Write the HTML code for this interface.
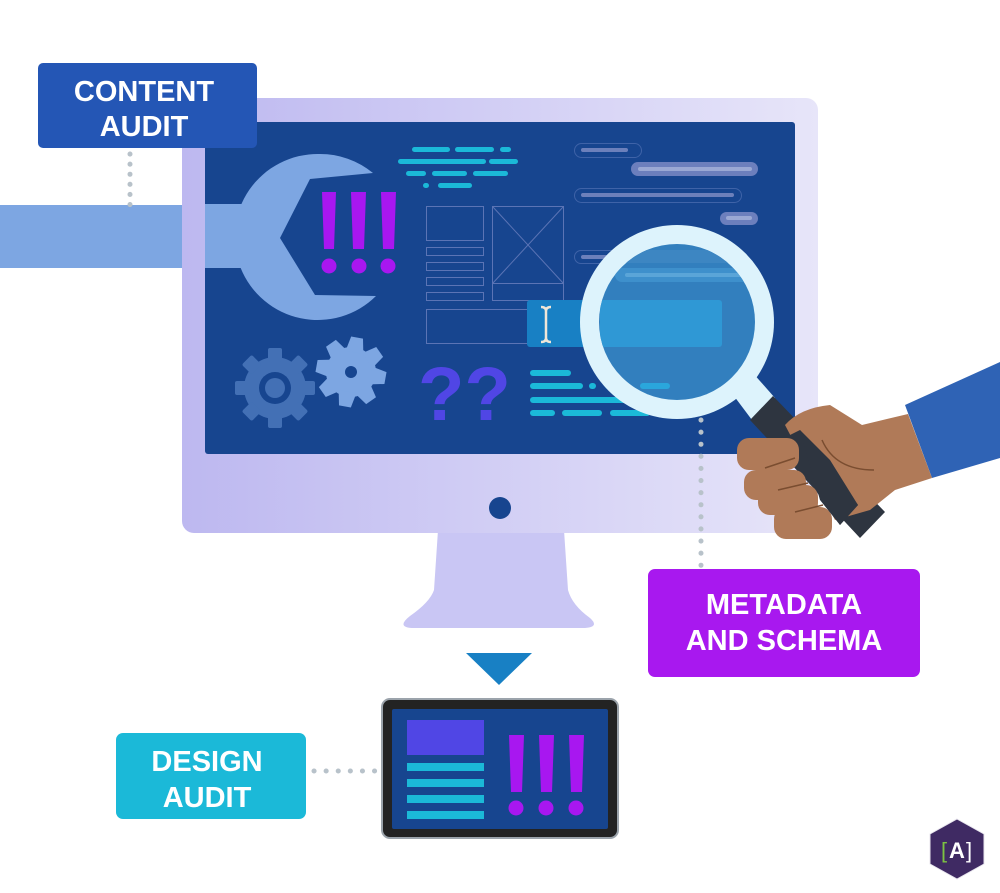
<!DOCTYPE html>
<html><head><meta charset="utf-8"><style>
html,body{margin:0;padding:0;background:#fff;}
svg{display:block;}
text{font-family:"Liberation Sans",sans-serif;}
</style></head><body>
<svg width="1000" height="893" viewBox="0 0 1000 893" xmlns="http://www.w3.org/2000/svg">
<defs>
<linearGradient id="mon" x1="0" x2="1" y1="0" y2="0">
<stop offset="0" stop-color="#BDB8F0"/><stop offset="1" stop-color="#E7E5F9"/>
</linearGradient>
<clipPath id="lensclip"><circle cx="677" cy="322" r="78"/></clipPath>
</defs>
<rect width="1000" height="893" fill="#fff"/>
<rect x="0" y="205" width="200" height="63" fill="#7DA6E2"/>
<path d="M438 530 L564 530 L568 590 Q572 605 590 618 Q600 627 585 628 L412 628 Q396 627 410 616 Q430 602 434 590 Z" fill="#C9C6F4"/>
<rect x="182" y="98" width="636" height="435" rx="12" fill="url(#mon)"/>
<rect x="205" y="122" width="590" height="332" rx="3" fill="#17458F"/>
<circle cx="500" cy="508" r="11" fill="#17458F"/>
<path d="M319 154 A83 83 0 1 0 376 296 L315 295 L280 238 L310 179 L373 173 A83 83 0 0 0 319 154 Z" fill="#7DA6E2"/>
<rect x="205" y="204" width="60" height="64" fill="#7DA6E2"/>
<g fill="#A817F0">
<polygon points="322,192 336,192 334,249 324,249"/>
<polygon points="351,192 366,192 364,249 353,249"/>
<polygon points="381,192 396,192 394,249 383,249"/>
<circle cx="329" cy="266" r="7.5"/><circle cx="359" cy="266" r="7.5"/><circle cx="388" cy="266" r="7.5"/>
</g>
<g fill="#1BB9D8">
<rect x="412" y="147" width="38" height="5" rx="2.5"/><rect x="455" y="147" width="39" height="5" rx="2.5"/><rect x="500" y="147" width="11" height="5" rx="2.5"/>
<rect x="398" y="159" width="88" height="5" rx="2.5"/><rect x="489" y="159" width="29" height="5" rx="2.5"/>
<rect x="406" y="171" width="20" height="5" rx="2.5"/><rect x="432" y="171" width="35" height="5" rx="2.5"/><rect x="473" y="171" width="35" height="5" rx="2.5"/>
<rect x="423" y="183" width="6" height="5" rx="2.5"/><rect x="438" y="183" width="34" height="5" rx="2.5"/>
</g>
<g fill="none" stroke="#5B74B5" stroke-width="1">
<rect x="426.5" y="206.5" width="57" height="34"/>
<rect x="426.5" y="247.5" width="57" height="8"/>
<rect x="426.5" y="262.5" width="57" height="8"/>
<rect x="426.5" y="277.5" width="57" height="8"/>
<rect x="426.5" y="292.5" width="57" height="8"/>
<rect x="492.5" y="206.5" width="71" height="94"/>
<line x1="492.5" y1="283.5" x2="563.5" y2="283.5"/>
<line x1="492.5" y1="206.5" x2="563.5" y2="283.5"/>
<line x1="563.5" y1="206.5" x2="492.5" y2="283.5"/>
<rect x="426.5" y="309.5" width="103" height="34"/>
</g>
<g>
<rect x="574.5" y="143.5" width="67" height="14" rx="7" fill="none" stroke="#3F63A8"/>
<rect x="581" y="148" width="47" height="4" rx="2" fill="#6C80BB"/>
<rect x="631" y="162" width="127" height="14" rx="7" fill="#6C7FBD"/>
<rect x="638" y="167" width="114" height="4" rx="2" fill="#9AA8D4"/>
<rect x="574.5" y="188.5" width="167" height="14" rx="7" fill="none" stroke="#3F63A8"/>
<rect x="581" y="193" width="153" height="4" rx="2" fill="#6C80BB"/>
<rect x="720" y="212" width="38" height="13" rx="6.5" fill="#6C7FBD"/>
<rect x="726" y="216" width="26" height="4" rx="2" fill="#9AA8D4"/>
<rect x="574.5" y="250.5" width="160" height="13" rx="6.5" fill="none" stroke="#3F63A8"/>
<rect x="581" y="255" width="30" height="4" rx="2" fill="#6C80BB"/>
</g>
<rect x="527" y="300" width="196" height="47" rx="3" fill="#1880C4"/>
<path d="M541 307 Q546 307 546 311 L546 338 Q546 342 541 342 M551 307 Q546 307 546 311 M551 342 Q546 342 546 338" fill="none" stroke="#EFE6D8" stroke-width="2.5"/>
<g transform="translate(275,388)" fill="#4370B5">
<circle r="31"/>
<g id="t1"><rect x="-7" y="-40" width="14" height="14" rx="2"/></g>
<use href="#t1" transform="rotate(45)"/><use href="#t1" transform="rotate(90)"/><use href="#t1" transform="rotate(135)"/><use href="#t1" transform="rotate(180)"/><use href="#t1" transform="rotate(225)"/><use href="#t1" transform="rotate(270)"/><use href="#t1" transform="rotate(315)"/>
<circle r="16" fill="#17458F"/><circle r="10" fill="#4370B5"/>
</g>
<g transform="translate(351,372) rotate(10)" fill="#7DA6E2">
<circle r="25"/>
<g id="t2"><polygon points="-6,-35 6,-35 9,-20 -9,-20"/></g>
<use href="#t2" transform="rotate(45)"/><use href="#t2" transform="rotate(90)"/><use href="#t2" transform="rotate(135)"/><use href="#t2" transform="rotate(180)"/><use href="#t2" transform="rotate(225)"/><use href="#t2" transform="rotate(270)"/><use href="#t2" transform="rotate(315)"/>
<circle r="6" fill="#17458F"/>
</g>
<text x="418" y="420" font-size="76" font-weight="bold" fill="#5046E5">??</text>
<g fill="#1BB9D8">
<rect x="530" y="370" width="41" height="6" rx="3"/>
<rect x="530" y="383" width="53" height="6" rx="3"/><rect x="589" y="383" width="7" height="6" rx="3"/><rect x="605" y="383" width="30" height="6" rx="3"/><rect x="651" y="383" width="14" height="6" rx="3"/>
<rect x="530" y="397" width="100" height="6" rx="3"/>
<rect x="530" y="410" width="25" height="6" rx="3"/><rect x="562" y="410" width="40" height="6" rx="3"/><rect x="610" y="410" width="40" height="6" rx="3"/>
</g>
<line x1="701" y1="420" x2="701" y2="566" stroke="#B8C2CA" stroke-width="5" stroke-linecap="round" stroke-dasharray="0.1 12"/>
<polygon points="731,392 752,372 775,398 752,420" fill="#DDF3FC"/>
<polygon points="750,420 773,396 885,512 860,538" fill="#2E3540"/>
<circle cx="677" cy="322" r="97" fill="#DDF3FC"/>
<circle cx="677" cy="322" r="78" fill="#327FBE"/>
<g clip-path="url(#lensclip)">
<rect x="574" y="250" width="160" height="13" rx="6.5" fill="#3D86C2"/>
<rect x="615" y="268" width="140" height="14" rx="7" fill="#3E90CC"/>
<rect x="625" y="273" width="120" height="4" rx="2" fill="#5AA5D8"/>
<rect x="600" y="300" width="122" height="47" rx="3" fill="#2F98D5"/>
<rect x="640" y="383" width="30" height="6" rx="3" fill="#2AA6DC"/>
</g>
<polygon points="905,405 1000,362 1000,458 932,478" fill="#2F63B5"/>
<path d="M785 425 Q800 408 830 405 L862 425 L908 414 L932 478 L895 490 L870 510 L835 520 Z" fill="#B07A58"/>
<polygon points="780,440 800,430 858,505 840,525" fill="#2E3540"/>
<g fill="#B07A58">
<rect x="737" y="438" width="62" height="32" rx="12"/>
<rect x="744" y="470" width="62" height="30" rx="12"/>
<rect x="758" y="485" width="60" height="30" rx="12"/>
<rect x="774" y="507" width="58" height="32" rx="12"/>
</g>
<path d="M822 440 Q835 470 874 470" fill="none" stroke="#7A4D30" stroke-width="1.5"/>
<g stroke="#7A4D30" stroke-width="1.5"><line x1="765" y1="468" x2="795" y2="458"/><line x1="778" y1="490" x2="808" y2="483"/><line x1="795" y1="512" x2="823" y2="505"/></g>
<polygon points="800,430 830,460 858,505 840,525 820,500" fill="#2E3540"/>
<line x1="130" y1="154" x2="130" y2="208" stroke="#B8C2CA" stroke-width="5" stroke-linecap="round" stroke-dasharray="0.1 10"/>
<rect x="38" y="63" width="219" height="85" rx="5" fill="#2456B5"/>
<text x="144" y="101" font-size="29" font-weight="bold" fill="#fff" text-anchor="middle">CONTENT</text>
<text x="144" y="136" font-size="29" font-weight="bold" fill="#fff" text-anchor="middle">AUDIT</text>
<rect x="648" y="569" width="272" height="108" rx="7" fill="#A818EF"/>
<text x="784" y="614" font-size="29" font-weight="bold" fill="#fff" text-anchor="middle">METADATA</text>
<text x="784" y="650" font-size="29" font-weight="bold" fill="#fff" text-anchor="middle">AND SCHEMA</text>
<polygon points="466,653 532,653 499,685" fill="#1880C4"/>
<rect x="382" y="699" width="236" height="139" rx="8" fill="#232323" stroke="#9BA3AB" stroke-width="2"/>
<rect x="392" y="709" width="216" height="120" rx="2" fill="#17458F"/>
<rect x="407" y="720" width="77" height="35" fill="#5046E5"/>
<g fill="#1BB9D8"><rect x="407" y="763" width="77" height="8"/><rect x="407" y="779" width="77" height="8"/><rect x="407" y="795" width="77" height="8"/><rect x="407" y="811" width="77" height="8"/></g>
<g fill="#A817F0">
<polygon points="509,735 524,735 522,792 511,792"/>
<polygon points="539,735 554,735 552,792 541,792"/>
<polygon points="569,735 584,735 582,792 571,792"/>
<circle cx="516" cy="808" r="7.5"/><circle cx="546" cy="808" r="7.5"/><circle cx="576" cy="808" r="7.5"/>
</g>
<line x1="314" y1="771" x2="377" y2="771" stroke="#B8C2CA" stroke-width="5" stroke-linecap="round" stroke-dasharray="0.1 12"/>
<rect x="116" y="733" width="190" height="86" rx="7" fill="#1BB9D8"/>
<text x="207" y="771" font-size="29" font-weight="bold" fill="#fff" text-anchor="middle">DESIGN</text>
<text x="207" y="807" font-size="29" font-weight="bold" fill="#fff" text-anchor="middle">AUDIT</text>
<polygon points="957,819 984,834 984,864 957,879 930,864 930,834" fill="#3F2A63" stroke="#E8E6EE" stroke-width="1"/>
<text x="941" y="858" font-size="22" fill="#7CC242">[</text>
<text x="949" y="858" font-size="22" font-weight="bold" fill="#fff">A</text>
<text x="966" y="858" font-size="22" fill="#fff">]</text>
</svg>
</body></html>
